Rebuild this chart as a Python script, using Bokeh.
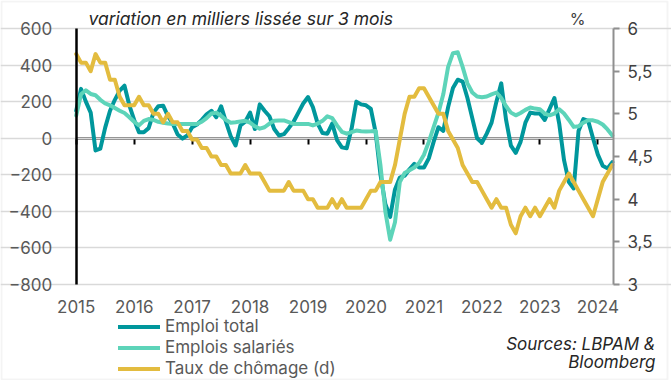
import pandas as pd
from bokeh.plotting import figure
from bokeh.models import (Range1d, LinearAxis, FixedTicker, Grid, Legend, LegendItem,
                          Label, CustomJSTickFormatter, ColumnDataSource, BoxAnnotation)
from bokeh.embed import file_html
from bokeh.resources import INLINE

# ---------------- data ----------------
months = pd.date_range("2015-01-01", "2024-04-01", freq="MS")

emploi_total = [
    150, 270, 200, 140, -67, -57, 58, 150, 210, 260, 287, 180,      # 2015
    100, 33, 33, 55, 140, 175, 178, 120, 80, 20, -2, 15,             # 2016
    60, 75, 100, 130, 150, 115, 175, 90, 10, -40, 70, 90,            # 2017
    140, 50, 185, 150, 120, 50, 15, 22, 55, 90, 140, 190,            # 2018
    225, 170, 80, 28, 25, 80, -10, -50, -55, 50, 200, 185,           # 2019
    180, 160, 30, -200, -360, -430, -280, -215, -205, -170, -140, -160,  # 2020
    -160, -110, -20, 60, 40, 170, 275, 320, 310, 220, 110, 0,        # 2021
    -25, 25, 85, 200, 300, 100, -40, -80, -20, 85, 140, 135,         # 2022
    135, 100, 160, 220, 80, -120, -240, -275, 40, 105, 95, 0,        # 2023
    -90, -150, -165, -131,                                           # 2024
]

emplois_salaries = [
    124, 240, 262, 242, 235, 210, 190, 180, 165, 150, 138, 115,
    90, 70, 95, 105, 100, 90, 85, 80, 78, 78, 78, 78,
    78, 78, 90, 110, 135, 140, 122, 100, 85, 87, 92, 95,
    85, 65, 52, 60, 80, 95, 97, 97, 88, 78, 78, 78,
    78, 70, 80, 95, 120, 110, 70, 35, 25, 33, 42, 38,
    37, 38, 40, -150, -400, -555, -460, -240, -190, -175, -160, -135,
    -90, -20, 60, 140, 240, 390, 465, 470, 390, 300, 250, 228,
    224, 228, 240, 250, 220, 175, 140, 125, 138, 155, 168, 162,
    158, 135, 125, 135, 158, 135, 100, 62, 65, 85, 98, 98,
    90, 75, 48, 15,
]

taux_chomage = [
    5.7, 5.6, 5.6, 5.5, 5.7, 5.6, 5.6, 5.4, 5.4, 5.2, 5.1, 5.1,
    5.1, 5.2, 5.1, 5.1, 5.0, 5.0, 4.9, 5.0, 4.9, 4.9, 4.8, 4.8,
    4.7, 4.7, 4.6, 4.6, 4.5, 4.5, 4.4, 4.4, 4.3, 4.3, 4.3, 4.4,
    4.3, 4.3, 4.3, 4.2, 4.1, 4.1, 4.1, 4.1, 4.2, 4.1, 4.1, 4.1,
    4.0, 4.0, 3.9, 3.9, 3.9, 4.0, 3.9, 4.0, 3.9, 3.9, 3.9, 3.9,
    4.0, 4.1, 4.1, 4.2, 4.2, 4.2, 4.4, 4.7, 5.0, 5.2, 5.2, 5.3,
    5.3, 5.2, 5.1, 5.0, 5.0, 4.8, 4.7, 4.6, 4.4, 4.3, 4.2, 4.2,
    4.1, 4.0, 3.9, 4.0, 3.9, 3.9, 3.7, 3.6, 3.8, 3.9, 3.8, 3.9,
    3.8, 3.9, 4.0, 3.9, 4.1, 4.2, 4.3, 4.2, 4.1, 4.0, 3.9, 3.8,
    4.0, 4.2, 4.3, 4.4,
]

years = list(range(2015, 2025))
left_ticks = [-800, -600, -400, -200, 0, 200, 400, 600]
right_ticks = [3, 3.5, 4, 4.5, 5, 5.5, 6]

series_names = ["Emploi total", "Emplois salariés", "Taux de chômage (d)"]
colors = ["#00979c", "#5dd4b9", "#e3bc3f"]

FONT = "Inter"
GREY = "#595959"

xpos = [d.year + (d.month - 1) / 12 for d in months]
src = ColumnDataSource(dict(x=xpos, tot=emploi_total, sal=emplois_salaries, cho=taux_chomage))

# ---------------- layout geometry (the frame covers the whole canvas) ----------------
W, H = 671, 380
PX_L, PX_R, PX_T, PX_B = 75.7, 613.0, 28.0, 284.0   # plot area in pixels
X0, X1 = 2015.0, 2024.27
Y0, Y1 = -800.0, 600.0
R0, R1 = 3.0, 6.0

xs = (X1 - X0) / (PX_R - PX_L)
ys = (Y1 - Y0) / (PX_B - PX_T)
rs = (R1 - R0) / (PX_B - PX_T)

p = figure(width=W, height=H, output_backend="svg", toolbar_location=None,
           x_range=Range1d(X0 - PX_L * xs, X1 + (W - PX_R) * xs),
           y_range=Range1d(Y0 - (H - PX_B) * ys, Y1 + PX_T * ys),
           x_axis_location=None, y_axis_location=None,
           min_border=0, min_border_left=0, min_border_right=0,
           min_border_top=0, min_border_bottom=0)
p.extra_y_ranges = {"right": Range1d(R0 - (H - PX_B) * rs, R1 + PX_T * rs)}
p.outline_line_color = None
p.background_fill_color = "white"
p.border_fill_color = "white"
p.grid.visible = False

# horizontal gridlines limited to the plot area
p.add_layout(Grid(dimension=1, ticker=FixedTicker(ticks=left_ticks), bounds=(X0, X1),
                  grid_line_color="#d9d9d9", grid_line_width=1.5))

# bottom labels (at the bottom of the plot area)
xlab = LinearAxis(fixed_location=Y0, ticker=FixedTicker(ticks=years), bounds=(X0, X1),
                  major_label_overrides={y: str(y) for y in years})
xlab.axis_line_color = None
xlab.major_tick_line_color = None
xlab.minor_tick_line_color = None
xlab.major_label_text_font = FONT
xlab.major_label_text_font_size = "17px"
xlab.major_label_text_color = GREY
xlab.major_label_standoff = 9
p.add_layout(xlab, "below")

# zero axis line with year ticks
xzero = LinearAxis(fixed_location=0, ticker=FixedTicker(ticks=years), bounds=(X0, X1),
                   major_label_overrides={y: "" for y in years})
xzero.axis_line_color = "black"
xzero.axis_line_width = 2
xzero.major_tick_line_color = "black"
xzero.major_tick_line_width = 2
xzero.major_tick_in = 0
xzero.major_tick_out = 6
xzero.minor_tick_line_color = None
xzero.level = "underlay"
p.add_layout(xzero, "below")

# left axis
ya = LinearAxis(fixed_location=X0, ticker=FixedTicker(ticks=left_ticks), bounds=(Y0, Y1))
ya.axis_line_color = "black"
ya.axis_line_width = 2.5
ya.major_tick_line_color = None
ya.minor_tick_line_color = None
ya.major_label_text_font = FONT
ya.major_label_text_font_size = "17px"
ya.major_label_text_color = GREY
ya.major_label_standoff = 18
p.add_layout(ya, "left")

# right axis
ra = LinearAxis(y_range_name="right", fixed_location=X1, ticker=FixedTicker(ticks=right_ticks),
                bounds=(R0, R1),
                formatter=CustomJSTickFormatter(code="return tick.toString().replace('.', ',')"))
ra.axis_line_color = "#8f8f8f"
ra.axis_line_width = 2
ra.major_tick_line_color = "#8f8f8f"
ra.major_tick_line_width = 2
ra.major_tick_in = 0
ra.major_tick_out = 6
ra.minor_tick_line_color = None
ra.major_label_text_font = FONT
ra.major_label_text_font_size = "17px"
ra.major_label_text_color = "#404040"
ra.major_label_standoff = 8
p.add_layout(ra, "right")

# series
r1 = p.line("x", "tot", source=src, line_color=colors[0], line_width=4, line_join="round", line_cap="round")
r2 = p.line("x", "sal", source=src, line_color=colors[1], line_width=4, line_join="round", line_cap="round")
r3 = p.line("x", "cho", source=src, y_range_name="right", line_color=colors[2], line_width=4,
            line_join="round", line_cap="round")

# legend: one entry per row, placed at the reference row positions
row_centers = [326, 347, 368]
for name, rend, cy in zip(series_names, [r1, r2, r3], row_centers):
    lg = Legend(items=[LegendItem(label=name, renderers=[rend])],
                location=(118, H - cy - 10.5), orientation="vertical",
                glyph_width=42, glyph_height=21, label_height=21, label_standoff=5,
                spacing=0, padding=0, margin=0, border_line_color=None,
                background_fill_alpha=0, label_text_font=FONT,
                label_text_font_size="17px", label_text_color=GREY)
    p.add_layout(lg, "center")

# texts
p.add_layout(Label(x=88, y=H - 18, x_units="screen", y_units="screen",
                   text="variation en milliers lissée sur 3 mois", text_font=FONT,
                   text_font_style="italic", text_font_size="17.5px", text_color="#262626",
                   text_baseline="middle", text_align="left"))
p.add_layout(Label(x=577, y=H - 18, x_units="screen", y_units="screen", text="%",
                   text_font=FONT, text_font_size="16px", text_color="#404040",
                   text_baseline="middle", text_align="center"))
p.add_layout(Label(x=655, y=H - 343, x_units="screen", y_units="screen", text="Sources: LBPAM &",
                   text_font=FONT, text_font_style="italic", text_font_size="17px",
                   text_color="#262626", text_baseline="middle", text_align="right"))
p.add_layout(Label(x=655, y=H - 361, x_units="screen", y_units="screen", text="Bloomberg",
                   text_font=FONT, text_font_style="italic", text_font_size="17px",
                   text_color="#262626", text_baseline="middle", text_align="right"))

# light frame around the chart
p.add_layout(BoxAnnotation(left=1, right=667, bottom=1, top=H - 1,
                           left_units="screen", right_units="screen",
                           bottom_units="screen", top_units="screen",
                           fill_alpha=0, line_color="#d9d9d9", line_width=2))

open("out.html", "w").write(file_html(p, INLINE))
